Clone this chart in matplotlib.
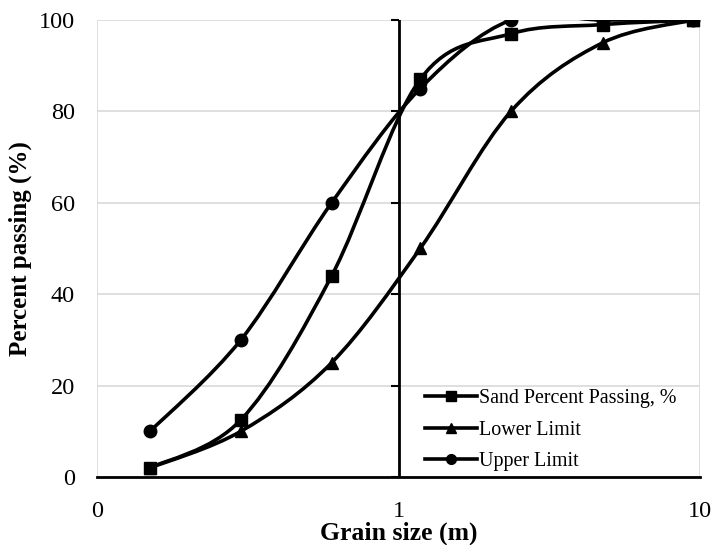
import numpy as np
import matplotlib
matplotlib.use("Agg")
import matplotlib.pyplot as plt
from matplotlib.path import Path
from matplotlib.patches import PathPatch
from matplotlib.lines import Line2D
from matplotlib.markers import TICKLEFT
from matplotlib.ticker import FixedLocator, FixedFormatter, NullLocator

plt.rcParams['font.family'] = ['Liberation Serif', 'DejaVu Serif']

# sieve openings (mm) and percent passing
sieve = [0.15, 0.3, 0.6, 1.18, 2.36, 4.75, 9.5]
sand = [2, 12.5, 44, 87, 97, 99, 100]
lower = [2, 10, 25, 50, 80, 95, 100]
upper = [10, 30, 60, 85, 100, 100, 100]

series = [
    ("Sand Percent Passing, %", sand, "s"),
    ("Lower Limit", lower, "^"),
    ("Upper Limit", upper, "o"),
]

x_ticks = [0.1, 1, 10]
x_ticklabels = ["0", "1", "10"]
y_ticks = [0, 20, 40, 60, 80, 100]
y_cross = 1  # vertical axis crosses here


def smooth_path(xs, ys):
    # Catmull-Rom style cubic Bezier through the points, built in log-x space
    pts = np.column_stack([np.log10(xs), np.asarray(ys, float)])
    n = len(pts)
    verts = [pts[0]]
    codes = [Path.MOVETO]
    for i in range(n - 1):
        p0 = pts[max(i - 1, 0)]
        p1 = pts[i]
        p2 = pts[i + 1]
        p3 = pts[min(i + 2, n - 1)]
        verts += [p1 + (p2 - p0) / 6, p2 - (p3 - p1) / 6, p2]
        codes += [Path.CURVE4] * 3
    verts = np.array(verts)
    verts[:, 0] = 10 ** verts[:, 0]
    return Path(verts, codes)


fig = plt.figure(figsize=(7.15, 5.45), dpi=100)
ax = fig.add_axes([0.1357, 0.1248, 0.979 - 0.1357, 0.9633 - 0.1248])
ax.set_xscale('log')
ax.set_xlim(0.1, 10)
ax.set_ylim(0, 100)

ax.xaxis.set_major_locator(FixedLocator(x_ticks))
ax.xaxis.set_major_formatter(FixedFormatter(x_ticklabels))
ax.xaxis.set_minor_locator(NullLocator())
ax.set_yticks(y_ticks)
ax.grid(True, color='#d9d9d9', lw=1.2, zorder=0)
ax.set_axisbelow(True)
ax.tick_params(axis='x', length=0, labelsize=17.5, pad=17)
ax.tick_params(axis='y', length=0, labelsize=17.5, pad=16)

for s in ('top', 'right', 'left'):
    ax.spines[s].set_visible(False)
ax.spines['bottom'].set_linewidth(2)
ax.spines['bottom'].set_zorder(3)

# vertical axis line with outward ticks at the crossing point
ax.axvline(y_cross, color='black', lw=2, zorder=3)
ax.plot([y_cross] * len(y_ticks), y_ticks, ls='none', marker=TICKLEFT,
        ms=6, mew=1.5, color='black', zorder=3, clip_on=False)

handles = []
for label, vals, mk in series:
    ax.add_patch(PathPatch(smooth_path(sieve, vals), fill=False, ec='black',
                           lw=2.6, zorder=4))
    ax.plot(sieve, vals, ls='none', marker=mk, ms=9, color='black', zorder=5)
    handles.append(Line2D([], [], color='black', lw=2.6, marker=mk, ms=7))

ax.legend(handles, [h[0] for h in series], loc='lower right',
          bbox_to_anchor=(0.99, -0.027), frameon=False, fontsize=14.4,
          handlelength=2.6, handletextpad=0.1, labelspacing=0.64)

ax.set_xlabel("Grain size (m)", fontsize=18.5, fontweight='bold', labelpad=0)
ax.set_ylabel("Percent passing (%)", fontsize=18, fontweight='bold')
ax.yaxis.set_label_coords(-0.108, 0.5)

fig.savefig("out.png", dpi=100)
